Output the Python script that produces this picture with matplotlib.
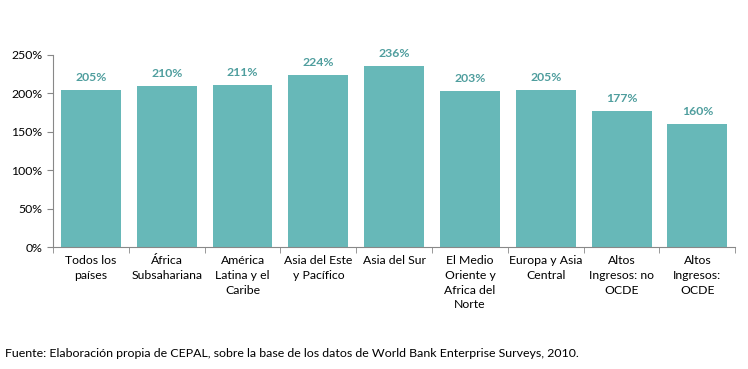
import matplotlib.pyplot as plt
from matplotlib.ticker import FuncFormatter
import numpy as np

plt.rcParams["font.family"] = ["Lato", "DejaVu Sans"]

# Datos
categorias = [
    "Todos los\npaíses",
    "África\nSubsahariana",
    "América\nLatina y el\nCaribe",
    "Asia del Este\ny Pacífico",
    "Asia del Sur",
    "El Medio\nOriente y\nAfrica del\nNorte",
    "Europa y Asia\nCentral",
    "Altos\nIngresos: no\nOCDE",
    "Altos\nIngresos:\nOCDE",
]
valores = [205, 210, 211, 224, 236, 203, 205, 177, 160]
yticks = [0, 50, 100, 150, 200, 250]

fig = plt.figure(figsize=(7.48, 3.69), dpi=100)
ax = fig.add_axes([0.0709, 0.3306, 0.9121, 0.5204])

x = np.arange(len(categorias))
ax.bar(x, valores, width=0.79, color="#67b8b8")

for xi, v in zip(x, valores):
    ax.text(xi, v + 9, f"{v}%", ha="center", va="bottom",
            fontsize=8.8, fontweight="bold", color="#4f9e9e")

ax.set_xlim(-0.5, len(categorias) - 0.5)
ax.set_ylim(0, 250)
ax.set_yticks(yticks)
ax.yaxis.set_major_formatter(FuncFormatter(lambda v, p: f"{v:.0f}%"))

ax.set_xticks(x)
ax.set_xticklabels(categorias, fontsize=8.8, linespacing=1.4)
ax.set_xticks(np.arange(-0.5, len(categorias)), minor=True)
ax.tick_params(axis="x", which="major", length=0, pad=6)
ax.tick_params(axis="x", which="minor", length=4, color="#888888", direction="out")
ax.tick_params(axis="y", length=4, color="#888888", labelsize=8.8)

for s in ["top", "right"]:
    ax.spines[s].set_visible(False)
for s in ["left", "bottom"]:
    ax.spines[s].set_color("#888888")

fig.text(0.007, 0.043,
         "Fuente: Elaboración propia de CEPAL, sobre la base de los datos de World Bank Enterprise Surveys, 2010.",
         fontsize=8.9, ha="left", va="center")

fig.savefig("out.png", dpi=100)
